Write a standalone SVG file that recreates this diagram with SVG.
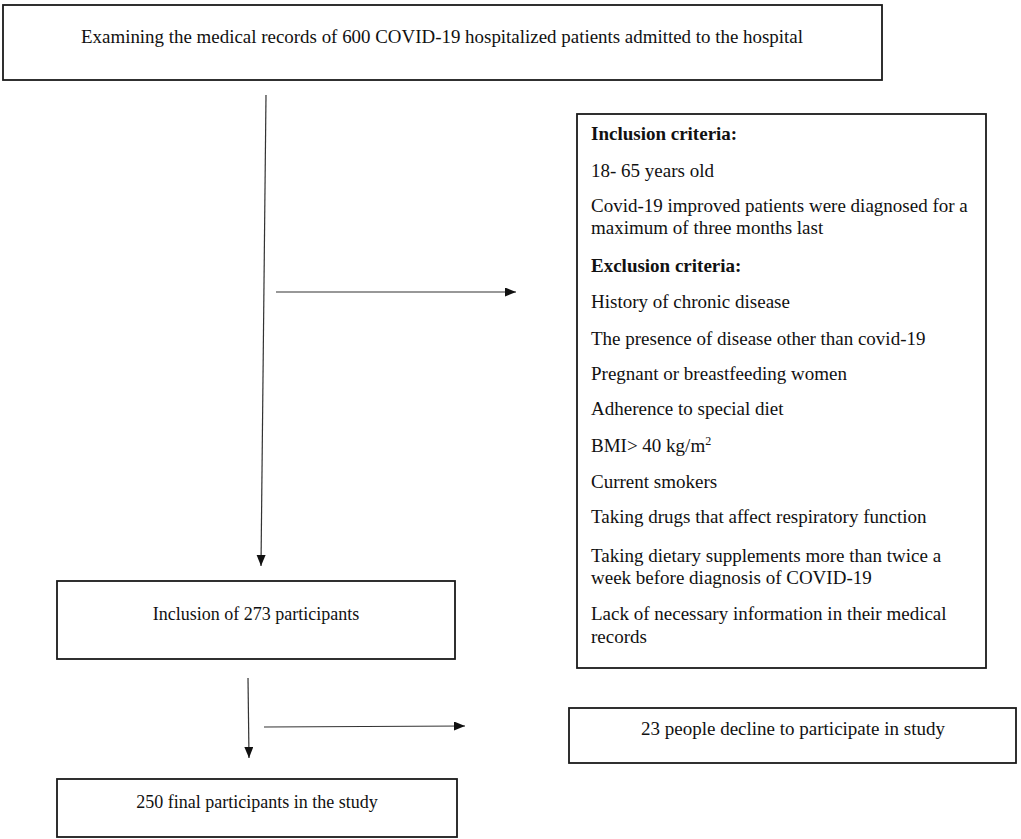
<svg xmlns="http://www.w3.org/2000/svg" width="1021" height="839" viewBox="0 0 1021 839">
<style>
.box{fill:#fff;stroke:#1a1a1a;stroke-width:1.8}
.t{font-family:"Liberation Serif","Times New Roman",serif;font-size:19px;fill:#111}
.c{text-anchor:middle}
.b{font-weight:bold}
.ln{stroke:#333;stroke-width:1.2;fill:none}
</style>
<defs>
<marker id="ah" markerUnits="userSpaceOnUse" markerWidth="12" markerHeight="10" refX="11" refY="4.5" orient="auto">
<path d="M0,0 L11,4.5 L0,9 z" fill="#111"/>
</marker>
</defs>
<rect width="1021" height="839" fill="#fff"/>
<g id="connectors">
<path class="ln" d="M266,95 L261,566" marker-end="url(#ah)"/>
<path class="ln" d="M276,292 L516,292" marker-end="url(#ah)"/>
<path class="ln" d="M248,678 L249,758" marker-end="url(#ah)"/>
<path class="ln" d="M264,727 L465,726" marker-end="url(#ah)"/>
</g>
<g id="node-records">
<rect class="box" x="3" y="5" width="879" height="75"/>
<text class="t c" x="442" y="43" textLength="722" lengthAdjust="spacingAndGlyphs">Examining  the medical  records of 600 COVID-19 hospitalized  patients admitted to the hospital</text>
</g>
<g id="node-criteria">
<rect class="box" x="577" y="114" width="409" height="554"/>
<text class="t b" x="591" y="140">Inclusion criteria:</text>
<text class="t" x="591" y="177">18- 65 years old</text>
<text class="t" x="591" y="212">Covid-19 improved patients were diagnosed for a</text>
<text class="t" x="591" y="234">maximum  of three months last</text>
<text class="t b" x="591" y="272">Exclusion criteria:</text>
<text class="t" x="591" y="308">History of chronic disease</text>
<text class="t" x="591" y="345">The presence of disease other than covid-19</text>
<text class="t" x="591" y="380">Pregnant or breastfeeding  women</text>
<text class="t" x="591" y="415">Adherence to special  diet</text>
<text class="t" x="591" y="452">BMI&gt; 40 kg/m<tspan font-size="12" dy="-7">2</tspan></text>
<text class="t" x="591" y="488">Current smokers</text>
<text class="t" x="591" y="523">Taking drugs that affect respiratory function</text>
<text class="t" x="591" y="562">Taking dietary supplements more than twice a</text>
<text class="t" x="591" y="584">week before diagnosis of COVID-19</text>
<text class="t" x="591" y="620">Lack of necessary information in their medical</text>
<text class="t" x="591" y="643">records</text>
</g>
<g id="node-inclusion">
<rect class="box" x="57" y="581" width="398" height="78"/>
<text class="t c" x="256" y="620" style="font-size:18px">Inclusion of 273 participants</text>
</g>
<g id="node-decline">
<rect class="box" x="569" y="708" width="447" height="55"/>
<text class="t c" x="793" y="735">23 people decline to participate in study</text>
</g>
<g id="node-final">
<rect class="box" x="57" y="779" width="400" height="58"/>
<text class="t c" x="257" y="808" style="font-size:18px">250 final  participants in the study</text>
</g>
</svg>
